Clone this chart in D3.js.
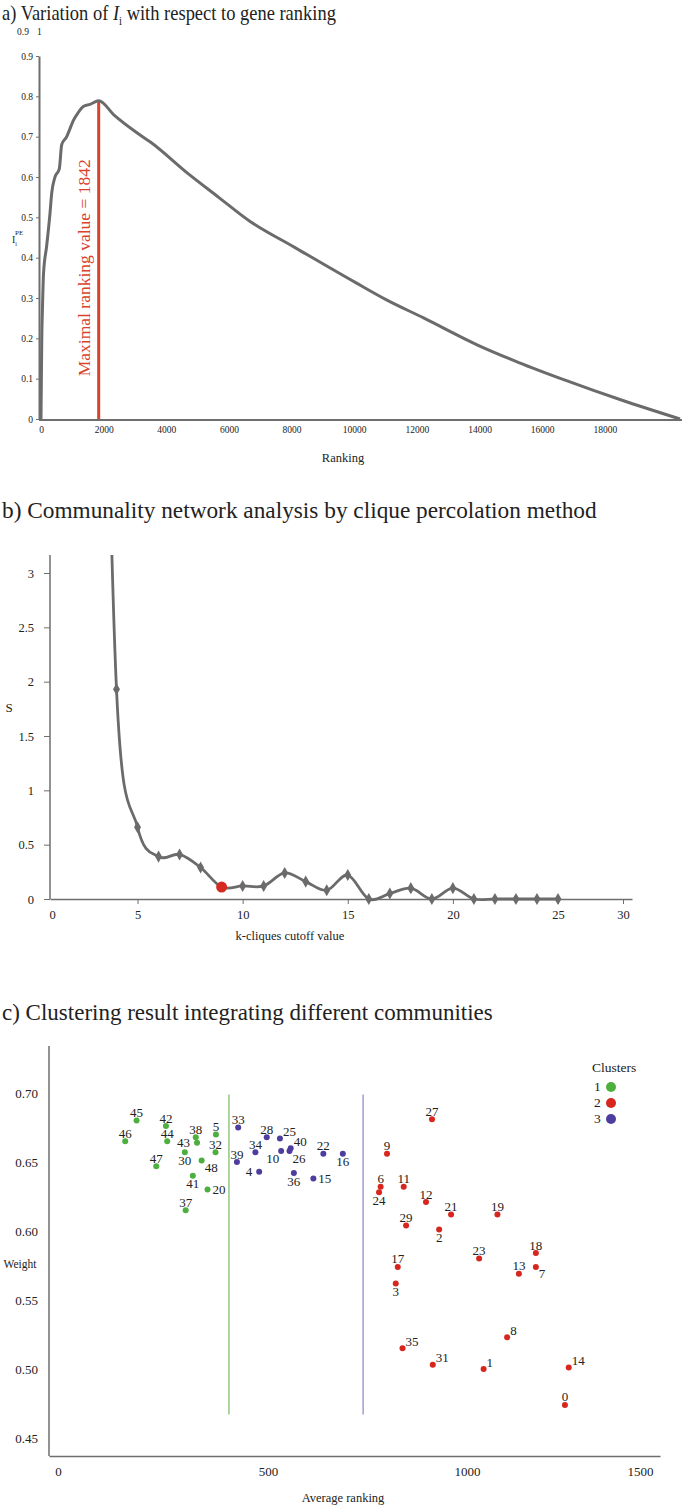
<!DOCTYPE html>
<html>
<head>
<meta charset="utf-8">
<script src="https://cdn.jsdelivr.net/npm/d3@7"></script>
<style>
  body { margin: 0; background: #fff; }
  text { font-family: "Liberation Serif", "Times New Roman", serif; fill: #222; }
  .axis path, .axis line { stroke: #6e6e6e; }
</style>
</head>
<body>
<svg id="chart" width="685" height="1508"></svg>
<script>
"use strict";

// ---- a) I_i^PE vs gene ranking (values read off the figure)
const rankA = [0, 12, 25, 45, 80, 182, 287, 342, 447, 584, 661, 821, 926, 1031, 1191, 1351, 1565, 1842,
               2353, 3017, 3503, 4716, 5683, 6654, 8110, 10048, 11015, 12229, 13921, 15255, 16711, 18528, 20400];
const ipeA  = [0, 0.10, 0.20, 0.27, 0.36, 0.43, 0.51, 0.56, 0.60, 0.62, 0.68, 0.70, 0.72, 0.74, 0.76, 0.775, 0.78, 0.789,
               0.752, 0.712, 0.686, 0.607, 0.549, 0.491, 0.425, 0.338, 0.296, 0.250, 0.184, 0.140, 0.097, 0.047, 0];
const maxRank = 1842;
const ticksA_x = [0, 2000, 4000, 6000, 8000, 10000, 12000, 14000, 16000, 18000];
const ticksA_y = [0, 0.1, 0.2, 0.3, 0.4, 0.5, 0.6, 0.7, 0.8, 0.9];

// ---- b) S vs k-cliques cutoff
const kB = [3, 4, 5, 6, 7, 8, 9, 10, 11, 12, 13, 14, 15, 16, 17, 18, 19, 20, 21, 22, 23, 24, 25];
const sB = [8, 1.93, 0.66, 0.39, 0.41, 0.29, 0.11, 0.12, 0.12, 0.24, 0.16, 0.08, 0.22, 0, 0.05, 0.10, 0, 0.10, 0, 0, 0, 0, 0];
const bestK = 9;
const ticksB_x = [0, 5, 10, 15, 20, 25, 30];
const ticksB_y = [0, 0.5, 1, 1.5, 2, 2.5, 3];

// ---- c) communities: average ranking vs weight
const c1Ids = [45, 42, 46, 44, 38, 43, 5, 30, 32, 47, 48, 41, 20, 37];
const c1Rank = [187, 257, 160, 260, 328, 331, 376, 302, 375, 234, 342, 321, 356, 304];
const c1Weight = [0.680, 0.676, 0.665, 0.665, 0.668, 0.664, 0.670, 0.657, 0.657, 0.647, 0.651, 0.640, 0.630, 0.615];

const c2Ids = [27, 9, 6, 24, 11, 12, 21, 19, 29, 2, 23, 18, 17, 13, 7, 3, 8, 35, 31, 1, 14, 0];
const c2Rank = [912, 799, 783, 779, 841, 897, 960, 1088, 847, 930, 1035, 1199, 826, 1150, 1199, 821, 1116, 838, 914, 1048, 1294, 1283];
const c2Weight = [0.681, 0.656, 0.632, 0.628, 0.632, 0.621, 0.612, 0.612, 0.604, 0.601, 0.580, 0.584, 0.574, 0.569, 0.574, 0.562,
                  0.523, 0.515, 0.503, 0.500, 0.501, 0.474];

const c3Ids = [33, 28, 25, 34, 40, 26, 10, 39, 4, 22, 16, 36, 15];
const c3Rank = [429, 497, 530, 470, 557, 554, 533, 426, 479, 639, 688, 565, 614];
const c3Weight = [0.675, 0.668, 0.667, 0.657, 0.660, 0.658, 0.658, 0.650, 0.643, 0.656, 0.656, 0.642, 0.638];

const cutRanks = [407, 739];
const cutWeights = [0.467, 0.699];
const clusterNames = ["1", "2", "3"];
const ticksC_x = [0, 500, 1000, 1500];
const ticksC_y = [0.45, 0.50, 0.55, 0.60, 0.65, 0.70];

// label placement around each point (style only)
const labelSide = {
  43: "l", 30: "b", 48: "br", 41: "b", 20: "r",
  25: "tr", 40: "tr", 26: "br", 10: "bl", 4: "l", 16: "b", 36: "b", 15: "r",
  24: "b", 2: "b", 7: "br", 3: "b", 8: "tr", 35: "tr", 31: "tr", 1: "tr", 14: "tr"
};
const sideOffset = {
  t: [0, -8, "middle"], b: [0, 8, "middle"], l: [-7, 0, "end"], r: [5, 0, "start"],
  tr: [3, -7, "start"], br: [3, 7, "start"], bl: [-2, 7, "end"]
};

const colors = ["#4caf3e", "#d7261e", "#4e3d9e"];
const cutColors = ["#93c784", "#a29ad3"];
const grey = "#6b6b6b";

const svg = d3.select("#chart");

// ================= panel a =================
{
  const x = d3.scaleLinear().domain([0, 20400]).range([41, 680]);
  const y = d3.scaleLinear().domain([0, 0.9]).range([419, 56]);
  const g = svg.append("g");

  // the original title is set in a narrow face
  const title = g.append("text").attr("transform", "translate(2,20) scale(0.88,1)").style("font-size", "21px");
  title.append("tspan").text("a) Variation of ");
  title.append("tspan").style("font-style", "italic").text("I");
  title.append("tspan").attr("dy", 5).style("font-size", "12px").text("i");
  title.append("tspan").attr("dy", -5).text(" with respect to gene ranking");

  // stray labels left over above the axis in the original figure
  g.append("text").attr("x", 17).attr("y", 35).style("font-size", "9.5px").text("0.9");
  g.append("text").attr("x", 37).attr("y", 35).style("font-size", "9.5px").text("1");

  g.append("g").attr("class", "axis")
    .attr("transform", "translate(39,0)")
    .call(d3.axisLeft(y).tickValues(ticksA_y).tickSize(3).tickSizeOuter(0).tickFormat(d3.format("")))
    .call(a => a.select(".domain").attr("stroke-width", 2))
    .call(a => a.selectAll("text").style("font-size", "9.5px").attr("x", -6));

  g.append("g").attr("class", "axis")
    .attr("transform", "translate(0,420)")
    .call(d3.axisBottom(x).tickValues(ticksA_x).tickSize(0).tickPadding(6).tickFormat(d3.format("d")))
    .call(a => a.select(".domain").attr("stroke-width", 2).attr("d", "M39,0H682"))
    .call(a => a.selectAll("text").style("font-size", "9.5px"));

  const yl = g.append("text").attr("x", 12).attr("y", 243).style("font-size", "10px");
  yl.append("tspan").text("I");
  yl.append("tspan").attr("dy", 3).style("font-size", "6px").text("i");
  yl.append("tspan").attr("dy", -11).attr("dx", -2).style("font-size", "7px").text("PE");

  g.append("text").attr("x", 343).attr("y", 462).attr("text-anchor", "middle")
    .style("font-size", "12.5px").text("Ranking");

  g.append("line")
    .attr("x1", x(maxRank)).attr("x2", x(maxRank))
    .attr("y1", y(0)).attr("y2", y(d3.max(ipeA)))
    .attr("stroke", "#d9432c").attr("stroke-width", 3);

  g.append("text")
    .attr("transform", `translate(${x(maxRank) - 9},${y(0.375)}) rotate(-90)`)
    .attr("text-anchor", "middle")
    .style("font-size", "17.5px").style("fill", "#d9432c")
    .text("Maximal ranking value = " + maxRank);

  const line = d3.line().x((d, i) => x(rankA[i])).y(d => y(d)).curve(d3.curveMonotoneX);
  g.append("path").datum(ipeA).attr("d", line)
    .attr("fill", "none").attr("stroke", grey).attr("stroke-width", 3);
}

// ================= panel b =================
{
  const x = d3.scaleLinear().domain([-0.1, 0, 4, 25, 30, 30.45]).range([50, 52, 116.5, 558, 623, 632]);
  const y = d3.scaleLinear().domain([0, 3]).range([899, 573]);
  const g = svg.append("g");

  g.append("text").attr("x", 2).attr("y", 518).style("font-size", "23.3px")
    .text("b) Communality network analysis by clique percolation method");

  g.append("defs").append("clipPath").attr("id", "clipB")
    .append("rect").attr("x", 50).attr("y", 555).attr("width", 590).attr("height", 360);

  g.append("g").attr("class", "axis")
    .attr("transform", "translate(50,0)")
    .call(d3.axisLeft(y).tickValues(ticksB_y).tickSize(6).tickSizeOuter(0).tickPadding(10).tickFormat(d3.format("")))
    .call(a => a.select(".domain").attr("stroke-width", 1.5).attr("d", "M0,555V899"))
    .call(a => a.selectAll("text").style("font-size", "12.5px"));

  g.append("g").attr("class", "axis")
    .attr("transform", "translate(0,899)")
    .call(d3.axisBottom(x).tickValues(ticksB_x).tickSize(5).tickSizeOuter(0).tickPadding(6).tickFormat(d3.format("")))
    .call(a => a.select(".domain").attr("stroke-width", 1.5))
    .call(a => a.selectAll(".tick line").filter(d => d === 0).remove())
    .call(a => a.selectAll("text").style("font-size", "12.5px"));

  g.append("text").attr("x", 9).attr("y", 712).attr("text-anchor", "middle")
    .style("font-size", "13px").text("S");
  g.append("text").attr("x", 290).attr("y", 940).attr("text-anchor", "middle")
    .style("font-size", "12.5px").text("k-cliques cutoff value");

  const plot = g.append("g").attr("clip-path", "url(#clipB)");
  const line = d3.line().x((d, i) => x(kB[i])).y(d => y(d)).curve(d3.curveCardinal.tension(0));
  plot.append("path").datum(sB).attr("d", line)
    .attr("fill", "none").attr("stroke", grey).attr("stroke-width", 2.8);

  const pts = kB.map((k, i) => ({ k: k, s: sB[i] }));
  plot.selectAll("path.mk").data(pts.filter(d => d.k !== bestK)).join("path")
    .attr("class", "mk")
    .attr("transform", d => `translate(${x(d.k)},${y(d.s)})`)
    .attr("d", d3.symbol(d3.symbolDiamond, 42))
    .attr("fill", grey);

  plot.selectAll("circle.best").data(pts.filter(d => d.k === bestK)).join("circle")
    .attr("class", "best")
    .attr("cx", d => x(d.k)).attr("cy", d => y(d.s)).attr("r", 5.5)
    .attr("fill", "#d42a20");
}

// ================= panel c =================
{
  const x = d3.scaleLinear().domain([-21, 0, 500, 1000, 1500, 1555]).range([49, 58, 268, 467, 640, 660]);
  const y = d3.scaleLinear().domain([0.45, 0.70]).range([1438, 1093]);
  const g = svg.append("g");

  g.append("text").attr("x", 2).attr("y", 1020).style("font-size", "23px")
    .text("c) Clustering result integrating different communities");

  g.append("g").attr("class", "axis")
    .attr("transform", "translate(49,0)")
    .call(d3.axisLeft(y).tickValues(ticksC_y).tickSize(0).tickPadding(11).tickFormat(d3.format(".2f")))
    .call(a => a.select(".domain").attr("stroke-width", 1.5).attr("d", "M0,1046V1456"))
    .call(a => a.selectAll("text").style("font-size", "13px"));

  g.append("g").attr("class", "axis")
    .attr("transform", "translate(0,1456)")
    .call(d3.axisBottom(x).tickValues(ticksC_x).tickSize(0).tickPadding(11).tickFormat(d3.format("d")))
    .call(a => a.select(".domain").attr("stroke-width", 1.5))
    .call(a => a.selectAll("text").style("font-size", "13px"));

  g.append("text").attr("x", 20).attr("y", 1268).attr("text-anchor", "middle")
    .style("font-size", "11.5px").text("Weight");
  g.append("text").attr("x", 343).attr("y", 1502).attr("text-anchor", "middle")
    .style("font-size", "12.5px").text("Average ranking");

  g.selectAll("line.cut").data(cutRanks).join("line")
    .attr("class", "cut")
    .attr("x1", d => x(d)).attr("x2", d => x(d))
    .attr("y1", y(cutWeights[0])).attr("y2", y(cutWeights[1]))
    .attr("stroke", (d, i) => cutColors[i]).attr("stroke-width", 1.5);

  const clusters = [
    c1Ids.map((id, i) => ({ id: id, r: c1Rank[i], w: c1Weight[i], c: 0 })),
    c2Ids.map((id, i) => ({ id: id, r: c2Rank[i], w: c2Weight[i], c: 1 })),
    c3Ids.map((id, i) => ({ id: id, r: c3Rank[i], w: c3Weight[i], c: 2 }))
  ];
  const all = clusters.flat();

  g.selectAll("circle.pt").data(all).join("circle")
    .attr("class", "pt")
    .attr("cx", d => x(d.r)).attr("cy", d => y(d.w)).attr("r", 3)
    .attr("fill", d => colors[d.c]);

  g.selectAll("text.lbl").data(all).join("text")
    .attr("class", "lbl")
    .each(function (d) {
      const o = sideOffset[labelSide[d.id] || "t"];
      d3.select(this)
        .attr("x", x(d.r) + o[0]).attr("y", y(d.w) + o[1])
        .attr("dy", "0.35em").attr("text-anchor", o[2]);
    })
    .style("font-size", "13px")
    .text(d => d.id);

  const lg = g.append("g").attr("transform", "translate(592,1072)");
  lg.append("text").style("font-size", "13.5px").text("Clusters");
  const item = lg.selectAll("g.item").data(clusterNames).join("g")
    .attr("class", "item")
    .attr("transform", (d, i) => `translate(0,${16 * (i + 1)})`);
  item.append("text").attr("x", 2).attr("y", 3).style("font-size", "13.5px").text(d => d);
  item.append("circle").attr("cx", 19).attr("cy", -1).attr("r", 5).attr("fill", (d, i) => colors[i]);
}
</script>
</body>
</html>
